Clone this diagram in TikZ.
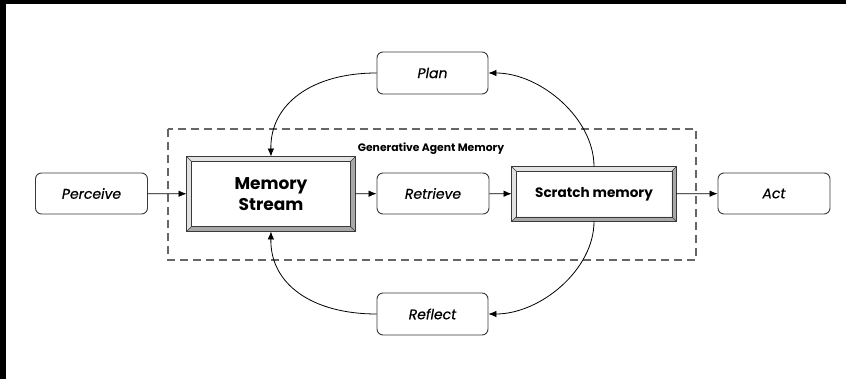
\documentclass[tikz,border=0pt]{standalone}
\usepackage{fontspec}
\setmainfont{Poppins}
\newfontfamily\labelfont{Poppins}[FakeBold=0.5]
\usetikzlibrary{arrows.meta,calc}
\definecolor{edge}{HTML}{3A3A3A}
\definecolor{bevlight}{HTML}{E2E2E2}
\definecolor{bevdark}{HTML}{A8A8A8}
\definecolor{dashgray}{HTML}{666666}
\tikzset{
  roundbox/.style={draw=edge, line width=0.9pt, rounded corners=6pt, fill=white,
    minimum width=112pt, minimum height=41pt, inner sep=0pt,
    font=\labelfont\fontsize{14}{16}\selectfont\itshape},
  bevelbox/.style={draw=edge, line width=0.9pt, fill=white, inner sep=0pt,
    font=\bfseries, align=center},
  flow/.style={draw=black, line width=0.8pt, -{Latex[length=8pt,width=6.5pt]}},
}
% 3D frame drawn over a bevelbox node, inset in pt
\newcommand\drawbevel[2]{%
  \coordinate (#1-a) at (#1.north west);
  \coordinate (#1-b) at (#1.north east);
  \coordinate (#1-c) at (#1.south east);
  \coordinate (#1-d) at (#1.south west);
  \coordinate (#1-ia) at ($(#1-a)+(#2,#2)$);
  \coordinate (#1-ib) at ($(#1-b)+(-#2,#2)$);
  \coordinate (#1-ic) at ($(#1-c)+(-#2,-#2)$);
  \coordinate (#1-id) at ($(#1-d)+(#2,-#2)$);
  \fill[bevlight] (#1-a) -- (#1-b) -- (#1-ib) -- (#1-ia) -- cycle;
  \fill[bevlight] (#1-a) -- (#1-ia) -- (#1-id) -- (#1-d) -- cycle;
  \fill[bevdark] (#1-b) -- (#1-c) -- (#1-ic) -- (#1-ib) -- cycle;
  \fill[bevdark] (#1-d) -- (#1-id) -- (#1-ic) -- (#1-c) -- cycle;
  \draw[edge, line width=0.5pt] (#1-a) -- (#1-ia) (#1-b) -- (#1-ib) (#1-c) -- (#1-ic) (#1-d) -- (#1-id);
  \draw[edge, line width=0.6pt] (#1-ia) rectangle (#1-ic);
  \draw[edge, line width=0.9pt] (#1-a) rectangle (#1-c);
}
\begin{document}
\begin{tikzpicture}[x=1pt,y=-1pt]
\useasboundingbox (0,0) rectangle (846,379);
\fill[white] (0,0) rectangle (846,379);
% black frame strips along top and left
\fill[black] (0,0) rectangle (846,4);
\fill[black] (0,0) rectangle (6,379);

% memory container
\draw[dashgray, line width=1.5pt, dash pattern=on 8pt off 5pt] (168,129) rectangle (696,260);
\node[font=\fontsize{10.8}{13}\selectfont\bfseries] (gam) at (431,149) {Generative Agent Memory};

% boxes
\node[roundbox] (perceive) at (91.5,193.5) {Perceive};
\node[bevelbox, minimum width=168pt, minimum height=74pt] (ms) at (271,194) {};
\node[roundbox] (retrieve) at (433,193.5) {Retrieve};
\node[bevelbox, minimum width=164pt, minimum height=54pt] (scratch) at (594,194) {};
\node[roundbox] (act) at (774,193.5) {Act};
\node[roundbox, minimum width=111pt, minimum height=42pt] (plan) at (432.5,73) {Plan};
\node[roundbox, minimum width=111pt, minimum height=42pt] (reflect) at (432.5,314) {Reflect};

\drawbevel{ms}{5}
\drawbevel{scratch}{4.5}
\node[font=\fontsize{17}{21}\selectfont\bfseries, align=center] (mstext) at (ms) {Memory\\Stream};
\node[font=\fontsize{13.6}{16}\selectfont\bfseries] (sctext) at (scratch) {Scratch memory};

% straight flow
\draw[flow] (perceive) -- (ms);
\draw[flow] (ms) -- (retrieve);
\draw[flow] (retrieve) -- (scratch);
\draw[flow] (scratch) -- (act);

% loops through plan and reflect
\draw[flow] (scratch.north) .. controls (594,118) and (540,73) .. (plan.east);
\draw[flow] (plan.west) .. controls (312,73) and (270,104) .. (ms.north);
\draw[flow] (scratch.south) .. controls (594,270) and (540,314) .. (reflect.east);
\draw[flow] (reflect.west) .. controls (312,314) and (270,284) .. (ms.south);
\end{tikzpicture}
\end{document}
